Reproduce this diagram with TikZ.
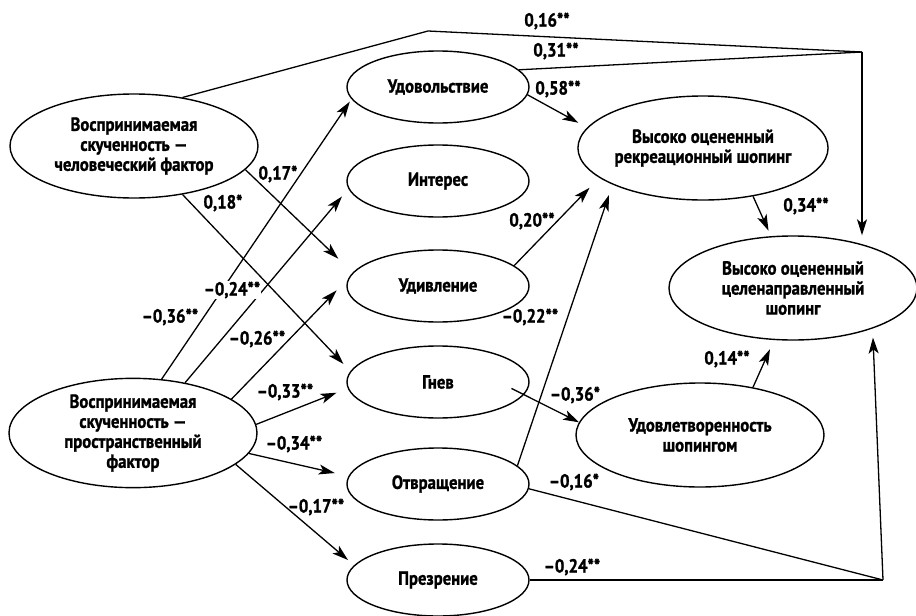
\documentclass[tikz,border=0pt]{standalone}
\usepackage{fontspec}
\setmainfont{PT Sans}[FakeStretch=0.88, BoldFont={PT Sans Bold}, BoldFeatures={FakeBold=1.2}]
\usetikzlibrary{arrows.meta,positioning,calc,shapes.geometric}

\begin{document}
\begin{tikzpicture}[x=1pt, y=-1pt,
  font=\fontsize{19}{20}\selectfont\bfseries,
  emo/.style={draw, ellipse, line width=1.4pt, inner sep=0pt, align=center, minimum width=182pt, minimum height=72pt},
  big/.style={emo, minimum width=248pt, minimum height=104pt},
  ln/.style={line width=1.3pt},
  arr/.style={ln, -{Stealth[length=16pt, width=10pt, inset=4pt]}},
  lab/.style={inner sep=1pt}]
\useasboundingbox (0,0) rectangle (916,616);
% crowding factors
\node[big] (hum) at (134,146) {Воспринимаемая\\скученность —\\человеческий фактор};
\node[big] (spat) at (133,433) {Воспринимаемая\\скученность —\\пространственный\\фактор};
% emotions
\node[emo] (udov) at (438,87) {Удовольствие};
\node[emo] (inter) at (438,181) {Интерес};
\node[emo] (udiv) at (438,286) {Удивление};
\node[emo] (gnev) at (438,382) {Гнев};
\node[emo] (otvr) at (438,484) {Отвращение};
\node[emo] (prez) at (438,580) {Презрение};
% shopping outcomes
\node[big] (rek) at (703,148) {Высоко оцененный\\рекреационный шопинг};
\node[big] (cel) at (793,288) {Высоко оцененный\\целенаправленный\\шопинг};
\node[big] (udovl) at (700,435) {Удовлетворенность\\шопингом};
\coordinate (k0) at (428,31);
\coordinate (k1) at (862,52);
\coordinate (k2) at (883,580);
% paths to the goal-directed shopping
\draw[ln] (hum.45) -- (k0) -- (k1);
\draw[ln] (udov.12) -- (k1);
\draw[arr] (k1) -- (k1 |- cel.north);
\draw[ln] (otvr.-3) -- (k2);
\draw[ln] (prez.east) -- (k2);
\draw[arr, shorten >=9pt] (k2) -- (cel.-27);
% from the human factor
\draw[arr, shorten >=20pt] (hum.-12) -- (udiv.171);
\draw[arr, shorten >=10pt] (hum.-45) -- (gnev.173);
% from the spatial factor
\draw[arr, shorten >=3pt] (spat.62) -- (udov.188);
\draw[arr, shorten >=10pt] (spat.44) -- (inter.185);
\draw[arr, shorten >=17pt] (spat.19) -- (udiv.175);
\draw[arr, shorten >=12pt] (spat.4) -- (gnev.184);
\draw[arr, shorten >=14pt] (spat.-10) -- (otvr.175);
\draw[arr, shorten >=8pt] (spat.-17) -- (prez.170);
% emotions to shopping
\draw[arr, shorten >=10pt] (udov.-5) -- (rek.170);
\draw[arr, shorten >=14pt] (udiv.15) -- (rek.196);
\draw[arr, shorten >=11pt] (otvr.13) -- (rek.202);
\draw[arr] ($(gnev.center)!0.82!(gnev.-5)$) -- (udovl.174);
\draw[arr, shorten >=6pt] (rek.-44) -- (cel.113);
\draw[arr, shorten >=10pt] (udovl.42) -- (cel.-110);
% coefficients
\node[lab] (c1) at (547,21) {0,16**};
\node[lab] (c2) at (556,51) {0,31**};
\node[lab] (c3) at (558,89) {0,58**};
\node[lab] (c4) at (278,174) {0,17*};
\node[lab] (c5) at (223,203) {0,18*};
\node[lab] (c6) at (170,317) {–0,36**};
\node[lab, fill=white] (c7) at (232,290) {–0,24**};
\node[lab] (c8) at (257,339) {–0,26**};
\node[lab] (c9) at (285,392) {–0,33**};
\node[lab] (c10) at (294,444) {–0,34**};
\node[lab] (c11) at (316,507) {–0,17**};
\node[lab] (c12) at (532,221) {0,20**};
\node[lab] (c13) at (530,317) {–0,22**};
\node[lab] (c14) at (575,395) {–0,36*};
\node[lab] (c15) at (806,206) {0,34**};
\node[lab] (c16) at (727,359) {0,14**};
\node[lab] (c17) at (574,482) {–0,16*};
\node[lab] (c18) at (572,567) {–0,24**};
\end{tikzpicture}
\end{document}
